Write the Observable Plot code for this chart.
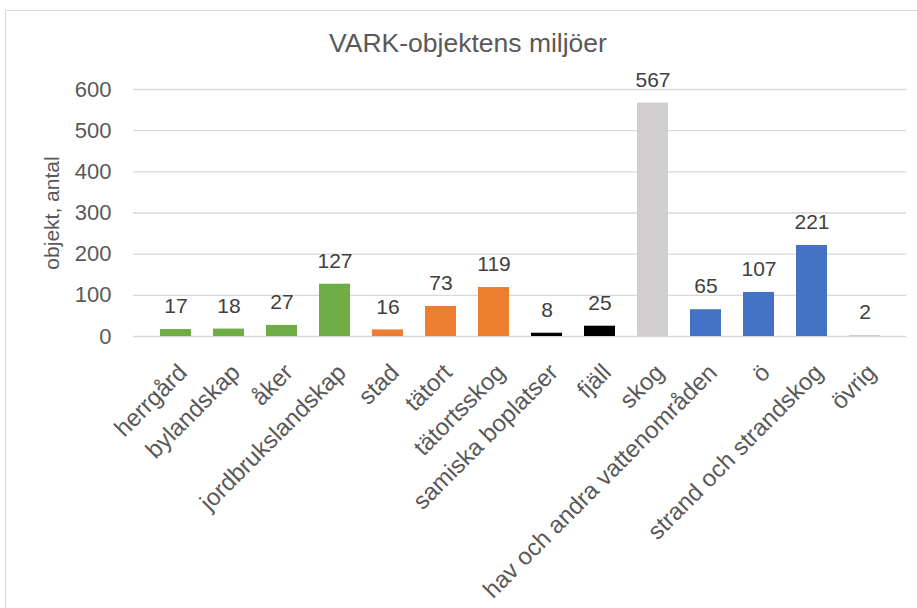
<!DOCTYPE html>
<html><head><meta charset="utf-8">
<script src="https://cdn.jsdelivr.net/npm/d3@7"></script>
<script src="https://cdn.jsdelivr.net/npm/@observablehq/plot@0.6"></script>
<style>
body{margin:0;background:#fff;font-family:"Liberation Sans",Arial,sans-serif;overflow:hidden}
#wrap{position:relative;width:917px;height:608px;overflow:hidden}
#frame{position:absolute;left:5px;top:10px;width:940px;height:640px;border:1px solid #d9d9d9}
#title{position:absolute;left:0;width:936px;top:28px;text-align:center;font-size:26.5px;color:#595959}
#chart{position:absolute;left:0;top:0}
</style></head>
<body><div id="wrap"><div id="frame"></div><div id="title">VARK-objektens miljöer</div><div id="chart"></div></div>
<script>
const categories = ["herrgård","bylandskap","åker","jordbrukslandskap","stad","tätort","tätortsskog","samiska boplatser","fjäll","skog","hav och andra vattenområden","ö","strand och strandskog","övrig"];
const values = [17,18,27,127,16,73,119,8,25,567,65,107,221,2];
const groups = ["agr","agr","agr","agr","urb","urb","urb","mtn","mtn","for","wat","wat","wat","oth"];
const yTicks = [0,100,200,300,400,500,600];
const yLabel = "objekt, antal";

const data = categories.map((c,i)=>({cat:c, v:values[i], g:groups[i]}));

const chart = Plot.plot({
  width: 917, height: 608,
  marginLeft: 133, marginRight: 11, marginTop: 89, marginBottom: 272,
  style: {fontFamily: '"Liberation Sans", Arial, sans-serif', color: "#595959", background: "transparent"},
  x: {domain: categories, padding: 0.42},
  y: {domain: [0,600]},
  color: {domain: ["agr","urb","mtn","for","wat","oth"], range: ["#70AD47","#ED7D31","#000000","#D0CECE","#4472C4","#B4C7E7"]},
  marks: [
    Plot.gridY(yTicks, {stroke: "#d9d9d9", strokeOpacity: 1, strokeWidth: 1.3}),
    Plot.barY(data, {x: "cat", y: "v", fill: "g"}),
    Plot.text(data, {x: "cat", y: "v", text: d => String(d.v), dy: -23, fontSize: 21, fill: "#404040", lineAnchor: "middle"}),
    Plot.axisY(yTicks, {tickSize: 0, tickPadding: 22, fontSize: 22, fill: "#595959", label: null}),
    Plot.text([yLabel], {frameAnchor: "left", dx: -81, rotate: -90, textAnchor: "middle", lineAnchor: "middle", fontSize: 21, fill: "#595959"}),
    Plot.axisX({tickSize: 0, tickPadding: 32, dx: 7, tickRotate: -45, fontSize: 24, fill: "#595959", label: null})
  ]
});
document.getElementById("chart").appendChild(chart);
</script></body></html>
